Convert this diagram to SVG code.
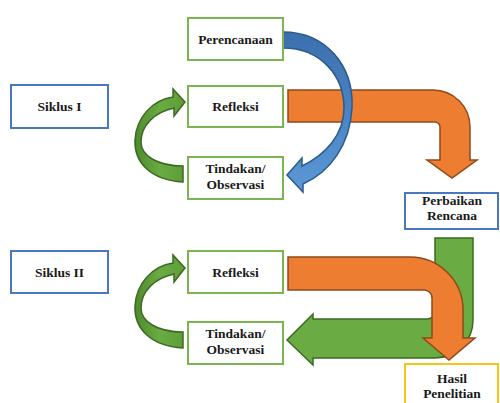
<svg xmlns="http://www.w3.org/2000/svg" width="500" height="403" viewBox="0 0 500 403">
<defs>
<linearGradient id="gBlue" x1="0" y1="0" x2="0" y2="1">
<stop offset="0" stop-color="#3b6fae"/>
<stop offset="1" stop-color="#5b98d6"/>
</linearGradient>
<linearGradient id="gGreen" x1="0" y1="0" x2="1" y2="0">
<stop offset="0" stop-color="#4f8a2e"/>
<stop offset="0.5" stop-color="#6aab43"/>
<stop offset="1" stop-color="#5e9c38"/>
</linearGradient>
<style>
.box{fill:#fff;stroke-width:2}
.g{stroke:#7ab552}
.b{stroke:#4a78c0}
.y{stroke:#f5c518}
.t{font-family:'Liberation Serif','DejaVu Serif',serif;font-weight:700;font-size:13.5px;fill:#1a1a1a;text-anchor:middle}
.orange{fill:#ed7d31;stroke:#8e4a18;stroke-width:1.5}
.green{fill:#6aab43;stroke:#3d6a22;stroke-width:1.5}
.cgreen{fill:url(#gGreen);stroke:#3d6a22;stroke-width:1.5}
.blue{fill:url(#gBlue);stroke:#2c5a8c;stroke-width:1.5}
</style>
</defs>
<g id="connectors">
<path class="cgreen" d="M183,182 C150,180 134,162 135,140 C136,118 152,100 173,97 L173,89 L185,102 L174,116 L174,108 C155,112 141,125 141,142 C141,156 158,166 183,166 Z"/>
<path class="cgreen" transform="translate(0,166)" d="M183,182 C150,180 134,162 135,140 C136,118 152,100 173,97 L173,89 L185,102 L174,116 L174,108 C155,112 141,125 141,142 C141,156 158,166 183,166 Z"/>
<path class="orange" d="M288,90 L433,90 A37,37 0 0 1 470,127 L470,160 L477,160 L452,178 L427,160 L440,160 L440,127 A5,5 0 0 0 435,122 L288,122 Z"/>
<path class="blue" d="M283,32 C325,32 354,65 352,108 C350,145 330,172 303,184 L303,192 L287,175 L302,158 L302,166 C325,155 344,135 344,108 C344,75 320,48 283,48 Z"/>
<path class="green" d="M435,238 L473,238 L473,320 A38,38 0 0 1 435,358 L313,358 L313,365 L287,340 L313,314 L313,319 L427,319 A8,8 0 0 0 435,311 Z"/>
<path class="orange" d="M288,257 L410,257 A53,53 0 0 1 463,310 L463,338 L475,338 L449,360 L423,338 L432,338 L432,298 A8,8 0 0 0 424,290 L288,290 Z"/>
</g>
<g id="siklus1"><rect class="box b" x="11" y="85" width="97" height="43"/><text class="t" x="59.5" y="111">Siklus I</text></g>
<g id="perencanaan"><rect class="box g" x="188" y="18" width="95" height="42"/><text class="t" x="235.5" y="44">Perencanaan</text></g>
<g id="refleksi1"><rect class="box g" x="188" y="86" width="95" height="41"/><text class="t" x="235.5" y="111">Refleksi</text></g>
<g id="tindakan1"><rect class="box g" x="188" y="157" width="95" height="42"/><text class="t" x="235.5" y="173">Tindakan/</text><text class="t" x="235.5" y="189">Observasi</text></g>
<g id="perbaikan"><rect class="box b" x="405" y="193" width="93" height="36"/><text class="t" x="452" y="205">Perbaikan</text><text class="t" x="452" y="220">Rencana</text></g>
<g id="siklus2"><rect class="box b" x="11" y="251" width="97" height="42"/><text class="t" x="59.5" y="277">Siklus II</text></g>
<g id="refleksi2"><rect class="box g" x="188" y="251" width="95" height="42"/><text class="t" x="235.5" y="277">Refleksi</text></g>
<g id="tindakan2"><rect class="box g" x="188" y="322" width="95" height="42"/><text class="t" x="235.5" y="338">Tindakan/</text><text class="t" x="235.5" y="354">Observasi</text></g>
<g id="hasil"><rect class="box y" x="405" y="364" width="93" height="44"/><text class="t" x="452" y="383">Hasil</text><text class="t" x="452" y="398">Penelitian</text></g>
</svg>
